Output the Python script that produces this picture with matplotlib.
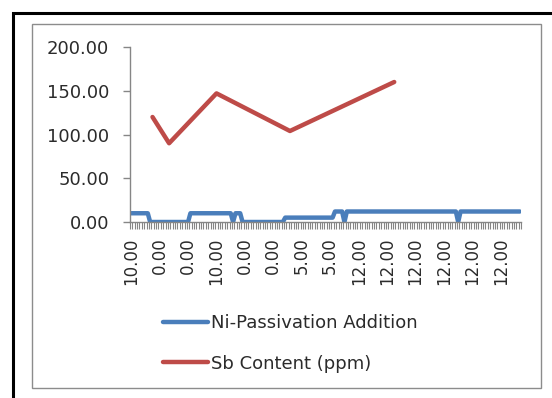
import matplotlib
matplotlib.use("Agg")
import matplotlib.pyplot as plt
from matplotlib.patches import Rectangle
from matplotlib.ticker import FixedLocator, FixedFormatter

# Ni-passivation addition for each sample (category axis)
ni_addition = [
    10, 10, 10, 10, 10, 10, 10, 10,
    0, 0, 0, 0, 0, 0, 0, 0, 0, 0, 0, 0, 0, 0, 0, 0, 0,
    10, 10, 10, 10, 10, 10, 10, 10, 10, 10, 10, 10, 10, 10, 10, 10, 10, 10,
    0,
    10, 10, 10,
    0, 0, 0, 0, 0, 0, 0, 0, 0, 0, 0, 0, 0, 0, 0, 0, 0, 0,
    5, 5, 5, 5, 5, 5, 5, 5, 5, 5, 5, 5, 5, 5, 5, 5, 5, 5, 5, 5, 5,
    12, 12, 12, 12,
    0,
    12, 12, 12, 12, 12, 12, 12, 12, 12, 12, 12, 12, 12, 12, 12, 12,
    12, 12, 12, 12, 12, 12, 12, 12, 12, 12, 12, 12, 12, 12, 12, 12,
    12, 12, 12, 12, 12, 12, 12, 12, 12, 12, 12, 12, 12, 12, 12,
    0,
    12, 12, 12, 12, 12, 12, 12, 12, 12, 12, 12, 12, 12,
    12, 12, 12, 12, 12, 12, 12, 12, 12, 12, 12, 12, 12,
]

# Sb content measured on a few of the samples
sb_sample = [9, 16, 36, 67, 111]
sb_ppm = [120, 90, 147, 104, 160]

y_ticks = [0, 50, 100, 150, 200]
label_every = 12

BLUE = "#4A7EBB"
RED = "#BE4B48"
AXIS_GRAY = "#868686"
TEXT = "#2b2b2b"

plt.rcParams["font.family"] = ["DejaVu Sans"]

W, H = 552, 398
fig = plt.figure(figsize=(W / 100, H / 100), dpi=100)
fig.patch.set_facecolor("white")


def fx(px):
    return px / W


def fy(py):
    return 1 - py / H


# chart frame (outer black, inner gray)
fig.patches.append(Rectangle((fx(13), fy(600)), fx(700), fy(13) - fy(600),
                             transform=fig.transFigure, fill=False,
                             edgecolor="black", linewidth=2.2, zorder=0))
fig.patches.append(Rectangle((fx(32), fy(388)), fx(541) - fx(32), fy(24) - fy(388),
                             transform=fig.transFigure, fill=False,
                             edgecolor="#8c8c8c", linewidth=1.0, zorder=0))

ax = fig.add_axes([fx(130), fy(222), fx(521) - fx(130), fy(47) - fy(222)])
ax.set_facecolor("none")

n = len(ni_addition)
x = list(range(n))
ln_ni, = ax.plot(x, ni_addition, color=BLUE, linewidth=3.2,
                 solid_joinstyle="round", solid_capstyle="round",
                 label="Ni-Passivation Addition")
ln_sb, = ax.plot(sb_sample, sb_ppm, color=RED, linewidth=3.2,
                 solid_joinstyle="round", solid_capstyle="round",
                 label="Sb Content (ppm)")

ax.set_xlim(-0.5, n - 0.5)
ax.set_ylim(0, 200)

for side in ("top", "right"):
    ax.spines[side].set_visible(False)
for side in ("left", "bottom"):
    ax.spines[side].set_color(AXIS_GRAY)
    ax.spines[side].set_linewidth(1.0)

ax.set_yticks(y_ticks)
ax.set_yticklabels([f"{v:.2f}" for v in y_ticks])
ax.tick_params(axis="y", direction="out", length=5, width=1, color=AXIS_GRAY,
               pad=10, labelsize=13, labelcolor=TEXT)

label_pos = list(range(0, n, label_every))
ax.xaxis.set_major_locator(FixedLocator(label_pos))
ax.xaxis.set_major_formatter(FixedFormatter([f"{ni_addition[i]:.2f}" for i in label_pos]))
ax.xaxis.set_minor_locator(FixedLocator([i - 0.5 for i in range(n + 1)]))
ax.tick_params(axis="x", which="major", length=0, pad=11, labelsize=12,
               labelcolor=TEXT, labelrotation=90)
ax.tick_params(axis="x", which="minor", direction="out", length=5, width=0.8,
               color=AXIS_GRAY)

fig.legend(handles=[ln_ni, ln_sb], loc="upper left",
           bbox_to_anchor=(fx(163), fy(314)), frameon=False, fontsize=13,
           handlelength=2.5, handletextpad=0.15, labelspacing=1.25,
           borderpad=0, borderaxespad=0, labelcolor=TEXT)

fig.savefig("out.png", dpi=100)
